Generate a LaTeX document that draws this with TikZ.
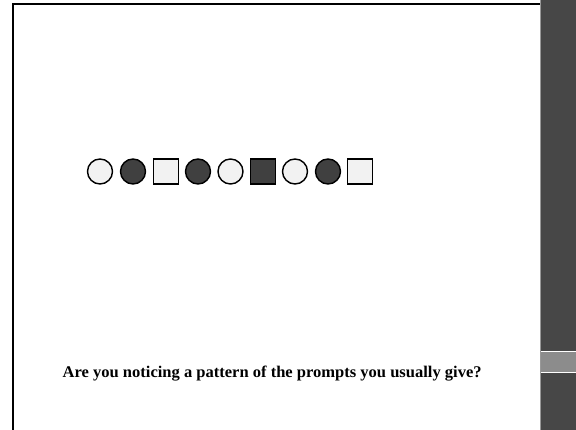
\documentclass[tikz,border=0pt]{standalone}
\usepackage{fontspec}
\setmainfont{Liberation Serif}
\usepackage{graphicx}
\begin{document}
\begin{tikzpicture}[x=1pt,y=-1pt,
  lightshape/.style={draw=black,line width=1.4pt,fill=black!5},
  darkshape/.style={draw=black,line width=1.4pt,fill=black!75},
  circ/.style={circle,minimum size=25pt,inner sep=0pt},
  sq/.style={rectangle,minimum size=25pt,inner sep=0pt},
  frameline/.style={line width=1.8pt,black}]
\useasboundingbox (0,0) rectangle (576,430);
\fill[white] (0,0) rectangle (576,430);
% right textured strip
\fill[black!72] (540,0) rectangle (576,430);
\fill[black!45] (540,351) rectangle (576,372);
\draw[white,line width=0.6pt] (540,351) -- (576,351);
\draw[white,line width=0.6pt] (540,372) -- (576,372);
\draw[black!40,line width=0.8pt] (540.4,0) -- (540.4,430);
% frame lines
\coordinate (tl) at (13,4);
\coordinate (tr) at (540,4);
\coordinate (bl) at (13,430);
\draw[frameline] (bl) -- (tl) -- (tr);
% shapes
\node[circ,lightshape] (s1) at (100,171.5) {};
\node[circ,darkshape]  (s2) at (133,171.5) {};
\node[sq,lightshape]   (s3) at (166,171.5) {};
\node[circ,darkshape]  (s4) at (198,171.5) {};
\node[circ,lightshape] (s5) at (230.5,171.5) {};
\node[sq,darkshape]    (s6) at (263,171.5) {};
\node[circ,lightshape] (s7) at (295,171.5) {};
\node[circ,darkshape]  (s8) at (328,171.5) {};
\node[sq,lightshape]   (s9) at (360,171.5) {};
% caption
\node[inner sep=0pt,anchor=base west] (cap) at (62.5,377.5)
  {\resizebox{419pt}{11.5pt}{\bfseries\fontsize{14}{16}\selectfont Are you noticing a pattern of the prompts you usually give?}};
\end{tikzpicture}
\end{document}
